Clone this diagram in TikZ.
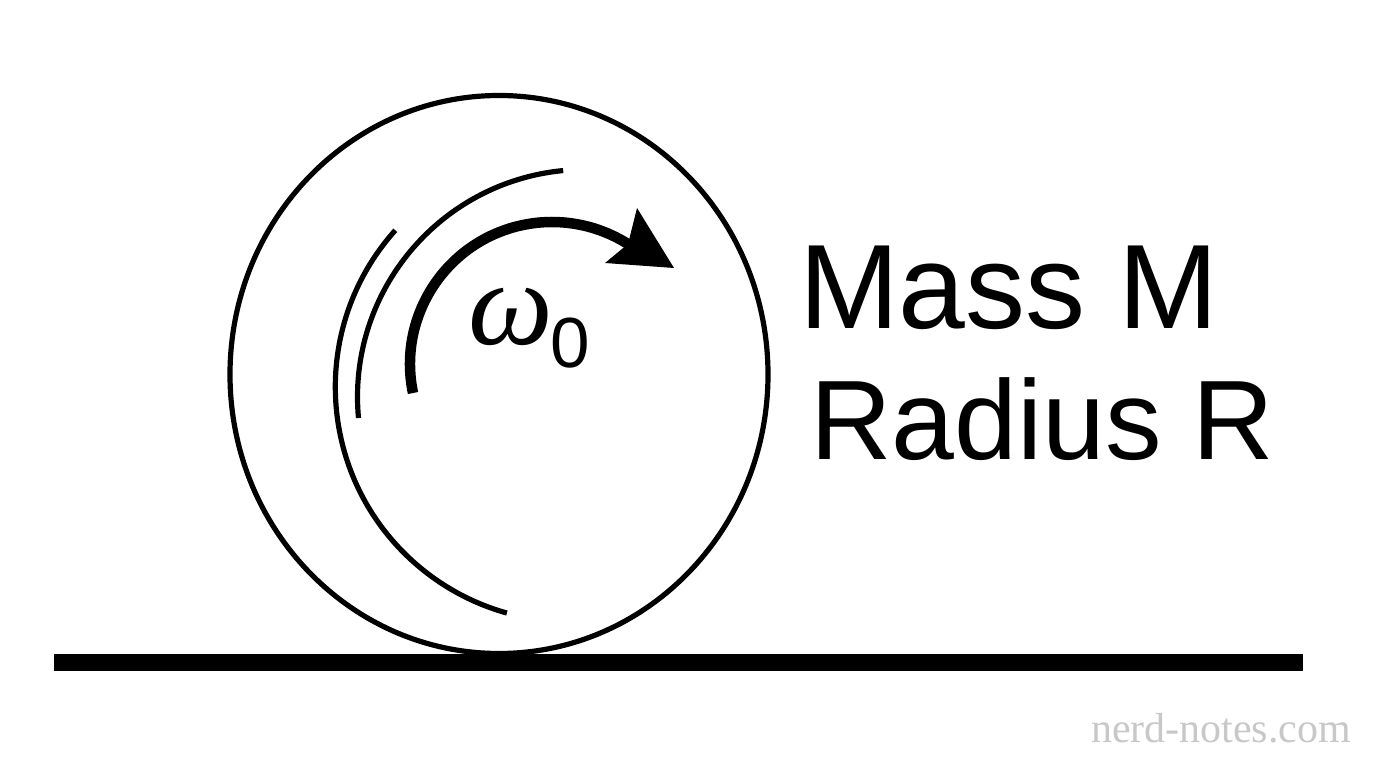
\documentclass[tikz,border=0pt]{standalone}
\usepackage{fontspec}
\setmainfont{Liberation Sans}
\newfontfamily\wmfont{Liberation Serif}
\newfontfamily\omfont{Liberation Serif}
\definecolor{wmgray}{RGB}{200,200,200}
\tikzset{
  thinstroke/.style={line width=5.2pt, black},
  thickstroke/.style={line width=10.5pt, black},
  label/.style={inner sep=0pt, outer sep=0pt, anchor=base west},
}
\begin{document}
\begin{tikzpicture}[x=1pt, y=1pt]
  \useasboundingbox[fill=white] (0,0) rectangle (1376,768);
  % ground
  \coordinate (gl) at (54,105.5);
  \coordinate (gr) at (1303,105.5);
  \draw[line width=17pt] (gl) -- (gr);
  % wheel
  \coordinate (wc) at (499,393.5);
  \draw[thinstroke] (wc) ellipse [x radius=269, y radius=279];
  % motion lines
  \draw[thinstroke] (585,371) ++(95.5:227.5) arc[start angle=95.5, end angle=185.3, radius=227.5];
  \draw[thinstroke] (570,381) ++(138.1:234.7) arc[start angle=138.1, end angle=254.4, radius=234.7];
  % rotation arrow
  \draw[thickstroke] (552,404) ++(191.8:142) arc[start angle=191.8, end angle=55, radius=142];
  \fill (637,560) -- (674,500) -- (605,505) -- (628,524) -- cycle;
  % labels
  \node[label] (om) at (468,423) {\omfont\itshape\fontsize{120}{120}\selectfont ω};
  \node[label] (sub) at (550,400) {\fontsize{71}{71}\selectfont 0};
  \node[label] (mass) at (799,439.7) {\fontsize{120}{130}\selectfont Mass M};
  \node[label] (rad) at (810,308.7) {\fontsize{113}{130}\selectfont Radius R};
  \node[label, text=wmgray] (wm) at (1091,25) {\wmfont\fontsize{42}{42}\selectfont nerd-notes.com};
\end{tikzpicture}
\end{document}
